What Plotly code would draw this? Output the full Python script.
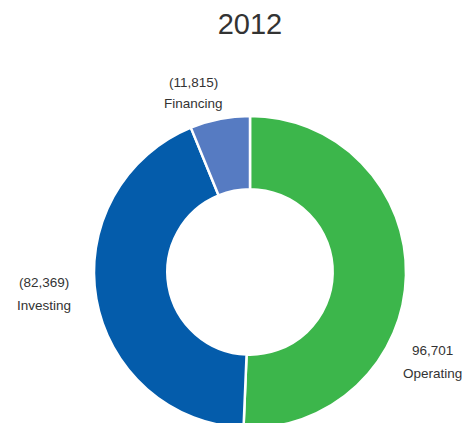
import plotly.graph_objects as go

title = "2012"
activities = ["Operating", "Investing", "Financing"]
amounts = [96701, 82369, 11815]  # cash flow magnitudes
amount_labels = ["96,701", "(82,369)", "(11,815)"]
colors = ["#3CB64B", "#045CAB", "#567BC2"]

FONT = "Liberation Sans"
TEXT = "#333333"
OFF = 8  # page body margin
W, H = 472 - OFF, 433

# pie geometry in page pixels (centre / radius)
cx, cy, r = 250 - OFF, 272 - OFF, 156

fig = go.Figure()

fig.add_trace(go.Pie(
    labels=activities,
    values=amounts,
    hole=0.53,
    sort=False,
    direction='clockwise',
    rotation=0,
    marker=dict(colors=colors, line=dict(color='white', width=2.5)),
    textinfo='none',
    hoverinfo='label+value',
    showlegend=False,
    domain=dict(
        x=[(cx - r) / W, (cx + r) / W],
        y=[(H - cy - r) / H, (H - cy + r) / H]
    )
))

# label positions (page pixels): x, value line y, name line y
label_pos = {
    "Operating": (432, 350, 373),
    "Investing": (44, 282, 305),
    "Financing": (193, 82, 104),
}

annotations = []
for name, amt in zip(activities, amount_labels):
    x, y1, y2 = label_pos[name]
    for txt, yy in ((amt, y1), (name, y2)):
        annotations.append(dict(
            text=txt,
            x=(x - OFF) / W, y=1 - (yy - OFF) / H,
            xref='paper', yref='paper',
            xanchor='center', yanchor='middle',
            showarrow=False,
            font=dict(family=FONT, size=13.5, color=TEXT)
        ))

fig.update_layout(
    title=dict(
        text=title,
        font=dict(family=FONT, size=29, color=TEXT),
        x=(250 - OFF) / W, xanchor='center',
        y=1 - (24 - OFF) / H, yanchor='middle'
    ),
    annotations=annotations,
    width=W,
    height=H,
    margin=dict(l=0, r=0, t=0, b=0),
    paper_bgcolor='white',
    plot_bgcolor='white'
)

fig.write_html("out.html")
